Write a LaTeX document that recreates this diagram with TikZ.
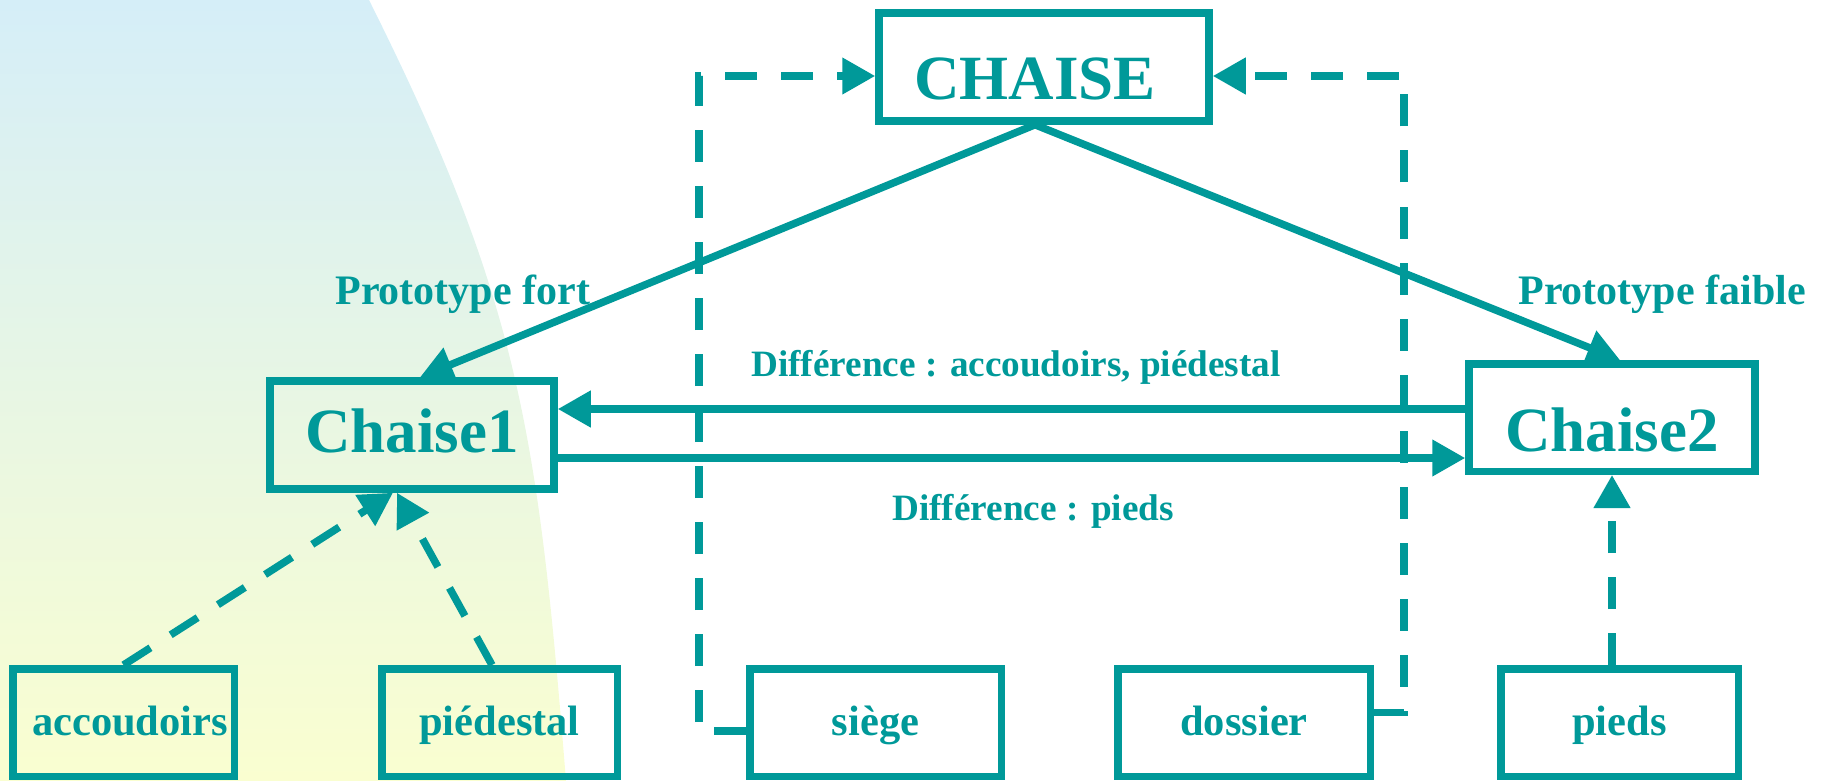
\documentclass[tikz,border=0pt]{standalone}
\usepackage{fontspec}
\setmainfont{Liberation Serif}
\usetikzlibrary{arrows.meta,calc}
\definecolor{chairteal}{RGB}{0,153,153}
\definecolor{skytop}{RGB}{213,238,248}
\definecolor{creambottom}{RGB}{250,254,208}
\begin{document}
\begin{tikzpicture}[x=0.5pt,y=-0.5pt,
  box/.style={draw=chairteal, line width=3.75pt, inner sep=0pt, text=chairteal},
  big/.style={box, minimum height=54pt, text depth=0pt,
    font=\fontsize{31.5}{36}\selectfont\bfseries},
  small/.style={box, minimum height=53.75pt, text height=17pt, text depth=4.5pt,
    font=\fontsize{21.25}{25}\selectfont\bfseries},
  link/.style={draw=chairteal, line width=3.75pt, -{Triangle[length=16.5pt,width=17.5pt]}},
  dlink/.style={link, dash pattern=on 16pt off 12pt},
  lbl/.style={text=chairteal, inner sep=0pt, anchor=base west,
    font=\fontsize{21}{25}\selectfont\bfseries},
  dlbl/.style={lbl, font=\fontsize{18.6}{22}\selectfont\bfseries}]
\useasboundingbox (0,0) rectangle (1832,781);

% soft gradient backdrop on the left
\shade[top color=skytop, bottom color=creambottom]
  (0,0) -- (369,0) .. controls (519,300) and (538,431) .. (566,781) -- (0,781) -- cycle;

% concepts
\node[big, minimum width=165pt, text height=33pt] (top) at (1044,67) {CHAISE\kern9pt};
\node[big, minimum width=142pt, text height=17pt] (c1) at (412,435) {Chaise1};
\node[big, minimum width=143pt, minimum height=53.75pt, text height=34pt] (c2) at (1612,417.5) {Chaise2};

% parts
\node[small, minimum width=110.75pt] (acc) at (123.5,722.5) {\kern6.5pt accoudoirs};
\node[small, minimum width=117.75pt] (ped) at (499.5,722.5) {piédestal};
\node[small, minimum width=125.75pt] (sie) at (875.5,722.5) {siège};
\node[small, minimum width=126.25pt] (dos) at (1244,722.5) {dossier};
\node[small, minimum width=118.75pt] (pie) at (1619.5,722.5) {pieds};

% labels
\node[lbl] (pfort) at (335,304) {Prototype fort};
\node[lbl] (pfaible) at (1518,304) {Prototype faible};
\node[dlbl] (d1) at (751,376) {Différence : accoudoirs, piédestal};
\node[dlbl] (d2) at (892,520) {Différence : pieds};

% routing points
\coordinate (yhi) at (0,409);
\coordinate (ylo) at (0,458);
\coordinate (lx) at (699,76);
\coordinate (rx) at (1404,76);

% prototype links
\draw[link] ($(top.south)+(-9,0)$) -- ($(c1.north)+(8,0)$);
\draw[link] ($(top.south)+(-9,0)$) -- ($(c2.north)+(8,0)$);

% differences
\draw[link] (c2.west |- yhi) -- (c1.east |- yhi);
\draw[link] (c1.east |- ylo) -- (c2.west |- ylo);

% parts of the prototypes
\draw[dlink] (acc.north) -- ($(c1.south)+(-19,0)$);
\draw[dlink] ($(ped.north)+(-7.5,0)$) -- ($(c1.south)+(-15,0)$);
\draw[dlink] (c2.south |- pie.north) -- (c2.south);

% shared parts of the category
\draw[dlink] ($(sie.west)+(0,8.5)$) -| (lx) -- (top.west |- lx);
\draw[dlink] ($(dos.east)+(0,-10)$) -| (rx) -- (top.east |- rx);
\end{tikzpicture}
\end{document}
